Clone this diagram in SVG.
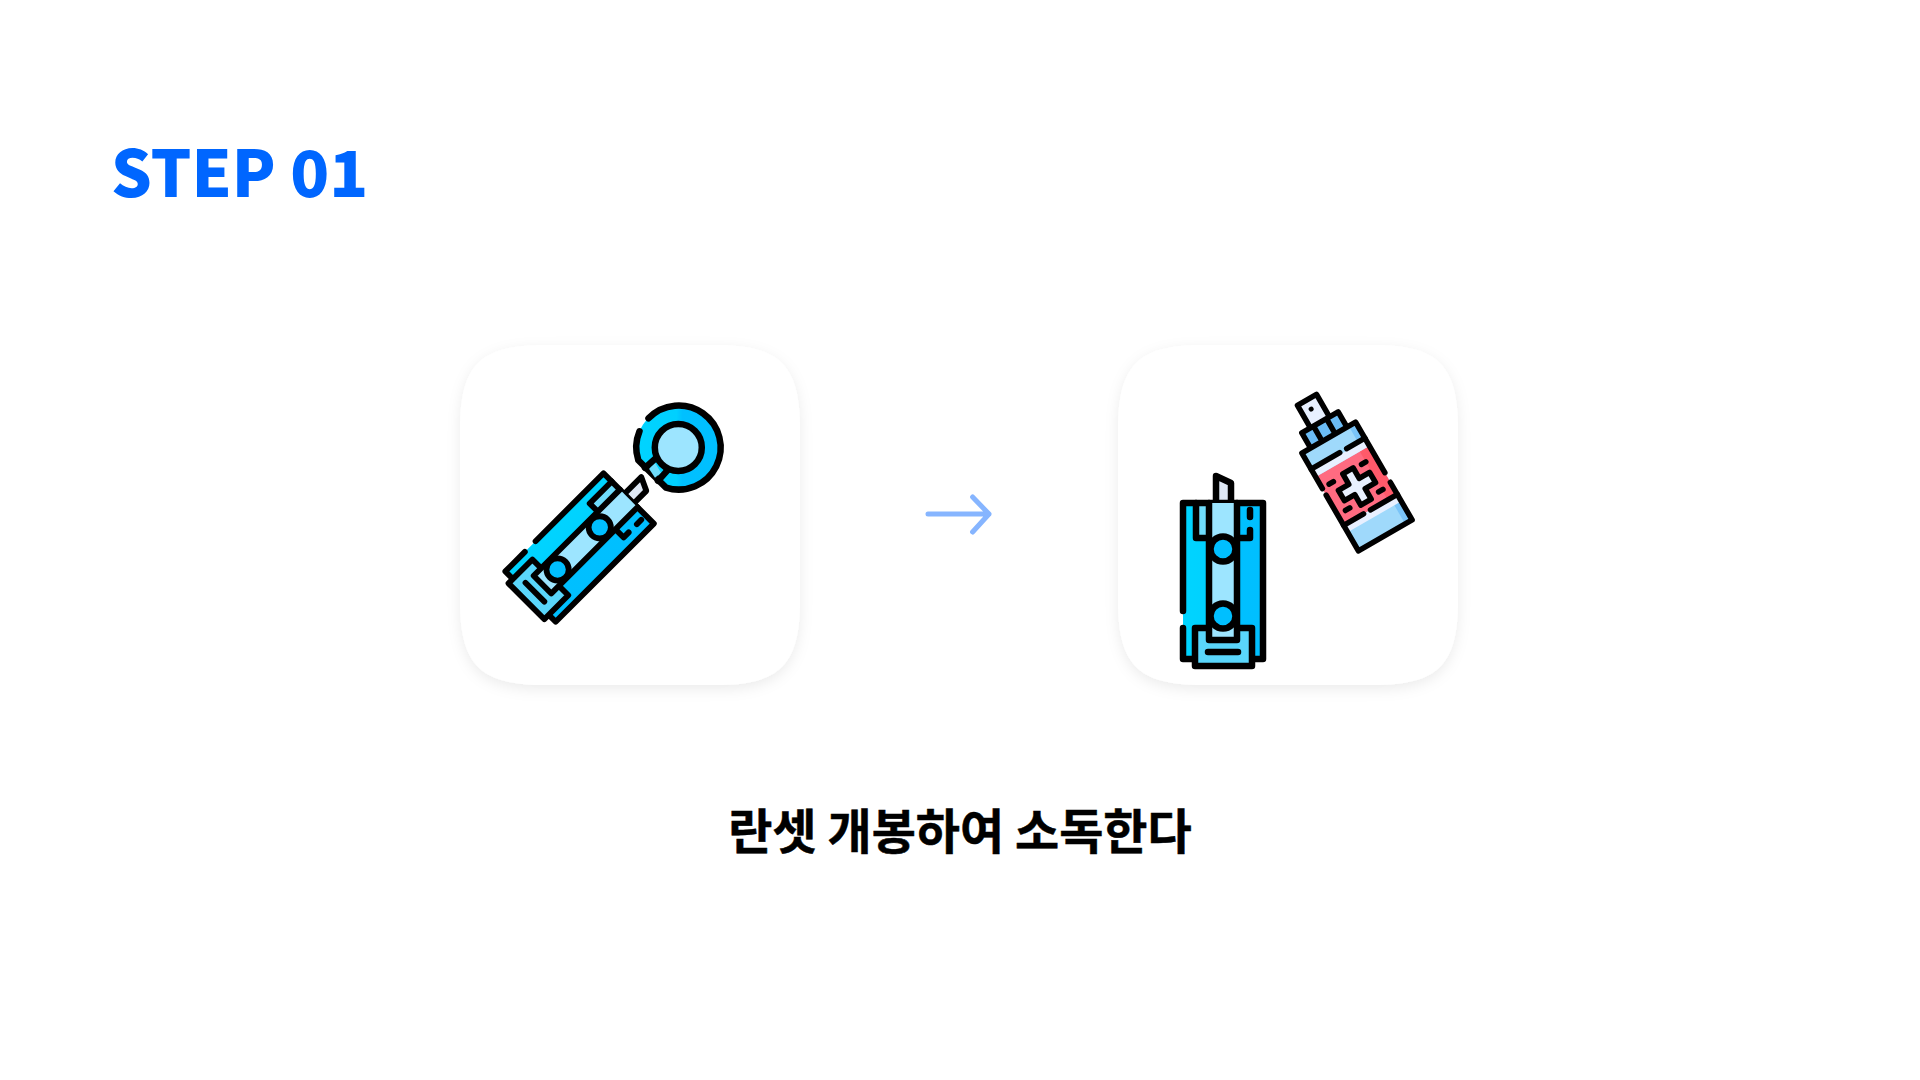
<svg xmlns="http://www.w3.org/2000/svg" xmlns:xlink="http://www.w3.org/1999/xlink" width="1920" height="1080" viewBox="0 0 1920 1080">
  <style>
    .ink { fill: none; stroke: #000; stroke-width: 6.500; stroke-linecap: round; stroke-linejoin: round; }
    .thin { stroke-width: 5.500; }
    .title { font-family: "Noto Sans CJK KR", "Noto Sans", sans-serif; font-weight: 900; }
    .caption { font-family: "Noto Sans CJK KR", "Noto Sans", sans-serif; font-weight: 700; stroke: #000; stroke-width: 0.500; }
    .card { fill: #fff; filter: url(#soft); }
  </style>
  <defs>
    <filter id="soft" x="-15%" y="-15%" width="130%" height="130%">
      <feDropShadow dx="0" dy="4" stdDeviation="7" flood-color="#000" flood-opacity="0.08"/>
    </filter>
    <linearGradient id="blue" x1="0" x2="1" y1="0" y2="0">
      <stop offset="0" stop-color="#00d4ff"/><stop offset="0.48" stop-color="#00d0ff"/>
      <stop offset="0.55" stop-color="#00c0ff"/><stop offset="1" stop-color="#00bfff"/>
    </linearGradient>
    <path id="cardShape" d="M545 345H715C780 345 800 365 800 430V600C800 665 780 685 715 685H545C480 685 460 665 460 600V430C460 365 480 345 545 345Z"/>
    <g id="lancet">
      <path d="M-7 -105L8 -98V-78H-7Z" fill="#dfe8f5"/>
      <path class="ink" d="M-7 -78V-105L8 -98V-78"/>
      <rect x="-40" y="-78" width="80" height="156" fill="url(#blue)"/>
      <rect x="-27" y="-78" width="13" height="35" fill="#6fdcfb"/>
      <path class="ink" d="M-40 30V-78H40V78H28M-40 47V78H-28"/>
      <path class="ink" d="M-27 -78V-43H27V-51M27 -71V-64"/>
      <rect x="-28" y="47" width="57" height="38" rx="2" fill="#5ad6fb"/>
      <path class="ink" d="M-28 78V85H29V47H-28V78"/>
      <path class="ink" d="M-15 71H15"/>
      <rect x="-14" y="-78" width="28" height="137" fill="#9de5ff"/>
      <path class="ink" d="M-14 -78V59H14V-78"/>
      <circle cx="0" cy="-32" r="12.500" fill="#00bfff" stroke="#000" stroke-width="6.500"/>
      <circle cx="0" cy="35" r="12.500" fill="#00bfff" stroke="#000" stroke-width="6.500"/>
    </g>
  </defs>

  <rect width="1920" height="1080" fill="#fff"/>

  <g id="title"><text class="title" x="111" y="197" font-size="64" fill="#0066ff">STEP 01</text></g>

  <g id="card-lancet">
    <use xlink:href="#cardShape" class="card"/>
    <g id="lancet-icon" transform="translate(579.6 547.5) rotate(45) scale(0.89)"><use xlink:href="#lancet"/></g>
    <g id="lancet-cap" transform="translate(0 0.8)">
      <path d="M666 486.800L638.300 459.500A42 42 0 1 1 666 486.800Z" fill="url(#blue)"/>
      <path class="ink" d="M648.500 417.500A42 42 0 1 1 666 486.800L638.300 459.500A42 42 0 0 1 639.500 430.500"/>
      <circle cx="678.300" cy="446.700" r="23.500" fill="#9de5ff" stroke="#000" stroke-width="6.500"/>
      <path d="M649 468L655 462L661 472L655 477Z" fill="#6fdcfb"/>
      <path class="ink" d="M655 458L645 467M667 470L658 480"/>
    </g>
  </g>

  <g id="connectors">
    <path d="M928 514H989M972.600 497L989 514L972.600 532" fill="none" stroke="#86b5ff" stroke-width="5" stroke-linecap="round" stroke-linejoin="round"/>
  </g>

  <g id="card-spray">
    <use xlink:href="#cardShape" class="card" transform="translate(658 0)"/>
    <g id="lancet-open" transform="translate(1223 581)"><use xlink:href="#lancet"/></g>
    <g id="spray" transform="translate(1357 486.500) rotate(-30)">
      <rect x="-11" y="-100" width="22" height="26" fill="#e8f0ff"/>
      <path class="ink thin" d="M-11 -75V-100H11V-75"/>
      <circle cx="-1" cy="-90" r="2.500" fill="#000"/>
      <rect x="-21" y="-74" width="42" height="17" fill="#6bbcf5"/>
      <path class="ink thin" d="M-21 -57V-74H21V-57M-7.500 -74V-60M7.500 -74V-60"/>
      <rect x="-31" y="-56.500" width="62" height="113" fill="#9fd9fb"/>
      <rect x="23" y="-56.500" width="8" height="113" fill="#7ac4f8"/>
      <rect x="-31" y="-29" width="62" height="56" fill="#ff6b81"/>
      <rect x="20" y="-29" width="11" height="56" fill="#ff5a6a"/>
      <rect x="-31" y="-36" width="62" height="7" fill="#e8f0ff"/>
      <rect x="-31" y="27" width="62" height="8" fill="#e8f0ff"/>
      <path class="ink thin" d="M-31 -15.500V-56.500H31V2M31 13V56.500H-31V-8"/>
      <path class="ink thin" d="M-31 -38H2M10 -38H31M-31 27H-8M0 27H31"/>
      <path d="M-6 -18H6V-6H18V6H6V18H-6V6H-18V-6H-6Z" fill="#e8f0ff" stroke="#000" stroke-width="5.500" stroke-linejoin="round"/>
      <path class="ink thin" d="M-23 -16H-18M15 -17H20M16 15.500H21M-22 15H-17"/>
    </g>
  </g>

  <g id="caption"><text class="caption" x="960" y="849" font-size="48" text-anchor="middle" fill="#000">란셋 개봉하여 소독한다</text></g>
</svg>
